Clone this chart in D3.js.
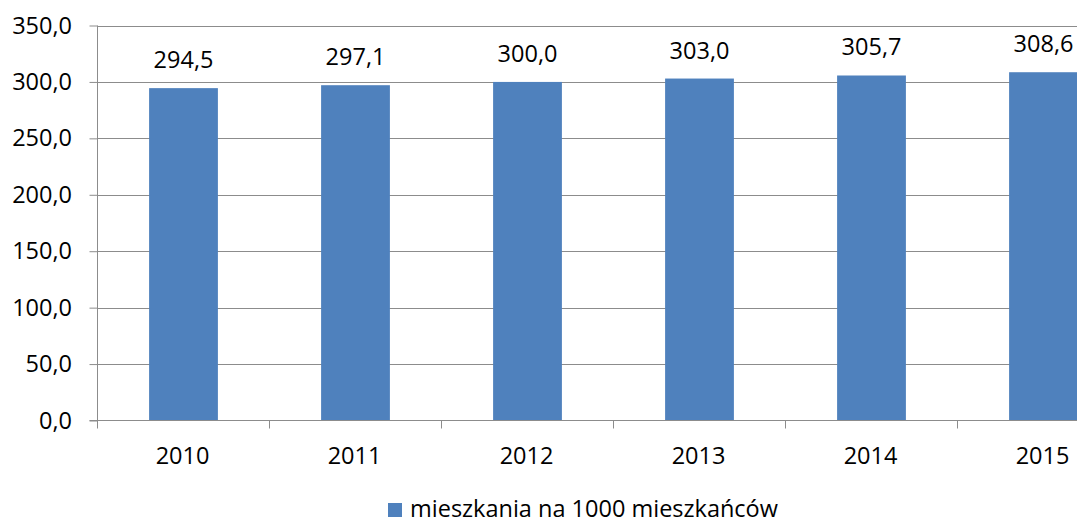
<!DOCTYPE html>
<html>
<head>
<meta charset="utf-8">
<script src="https://cdn.jsdelivr.net/npm/d3@7"></script>
<style>
body{margin:0;background:#fff;}
text{font-family:"Open Sans",Lato,sans-serif;fill:#000;}
</style>
</head>
<body>
<div id="chart"></div>
<script>
//data
var years=["2010","2011","2012","2013","2014","2015"];
var values=[294.5,297.1,300.0,303.0,305.7,308.6];
var yTicks=[0,50,100,150,200,250,300,350];
var seriesName="mieszkania na 1000 mieszkańców";

var svgWidth=1077, svgHeight=520;
var margin={top:25.5,left:97.5};
var plotBottom=420.5;
var step=172;
var fontSize="23.5px";

var svg=d3.select("#chart").append("svg")
    .attr("width",svgWidth).attr("height",svgHeight);

var fmt=function(v){return d3.format(".1f")(v).replace(".",",");};

//x scale - the plot is cut at the right edge, so range goes past the window
var x=d3.scaleBand()
    .domain(years)
    .range([margin.left,margin.left+step*years.length])
    .paddingInner(0.6).paddingOuter(0.3);

var y=d3.scaleLinear().domain([0,350]).range([plotBottom,margin.top]);

//gridlines
svg.append("g").selectAll("line")
    .data(yTicks.filter(d=>d>0))
    .enter().append("line")
    .attr("x1",margin.left).attr("x2",svgWidth)
    .attr("y1",d=>Math.round(y(d))+0.5).attr("y2",d=>Math.round(y(d))+0.5)
    .attr("stroke","#8c8c8c").attr("stroke-width",1);

//bars
svg.append("g").selectAll("rect")
    .data(values)
    .enter().append("rect")
    .attr("x",(d,i)=>x(years[i]))
    .attr("width",x.bandwidth())
    .attr("y",d=>y(d))
    .attr("height",d=>plotBottom-y(d))
    .attr("fill","#4f81bd");

//y axis
var yAxis=svg.append("g")
    .attr("transform",`translate(${margin.left},0)`)
    .call(d3.axisLeft(y).tickValues(yTicks).tickSize(8).tickPadding(17.5).tickFormat(fmt));
yAxis.select(".domain").remove();
yAxis.selectAll(".tick line").attr("stroke","#8c8c8c");
yAxis.selectAll("text").attr("font-size",fontSize).attr("fill","#000")
    .attr("font-family","'Open Sans',Lato,sans-serif");
yAxis.append("line").attr("x1",0).attr("x2",0)
    .attr("y1",margin.top).attr("y2",plotBottom).attr("stroke","#8c8c8c");

//x axis with ticks between categories
var xAxis=svg.append("g").attr("transform",`translate(0,${plotBottom})`);
xAxis.append("line").attr("x1",margin.left-8).attr("x2",svgWidth)
    .attr("stroke","#8c8c8c");
xAxis.selectAll(".sep")
    .data(d3.range(years.length+1))
    .enter().append("line")
    .attr("class","sep")
    .attr("x1",i=>margin.left+i*step).attr("x2",i=>margin.left+i*step)
    .attr("y1",0).attr("y2",8).attr("stroke","#8c8c8c");
xAxis.selectAll("text")
    .data(years)
    .enter().append("text")
    .attr("x",d=>x(d)+x.bandwidth()/2-1)
    .attr("y",43.5)
    .attr("text-anchor","middle")
    .attr("font-size",fontSize)
    .text(d=>d);

//value labels
svg.append("g").selectAll("text")
    .data(values)
    .enter().append("text")
    .attr("x",(d,i)=>x(years[i])+x.bandwidth()/2)
    .attr("y",d=>y(d)-20)
    .attr("text-anchor","middle")
    .attr("font-size",fontSize)
    .text(d=>fmt(d));

//legend
var legend=svg.append("g").attr("transform","translate(388,503)");
legend.append("rect").attr("width",14).attr("height",14).attr("fill","#4f81bd");
legend.append("text").attr("x",22).attr("y",14)
    .attr("font-size",fontSize).text(seriesName);
</script>
</body>
</html>
